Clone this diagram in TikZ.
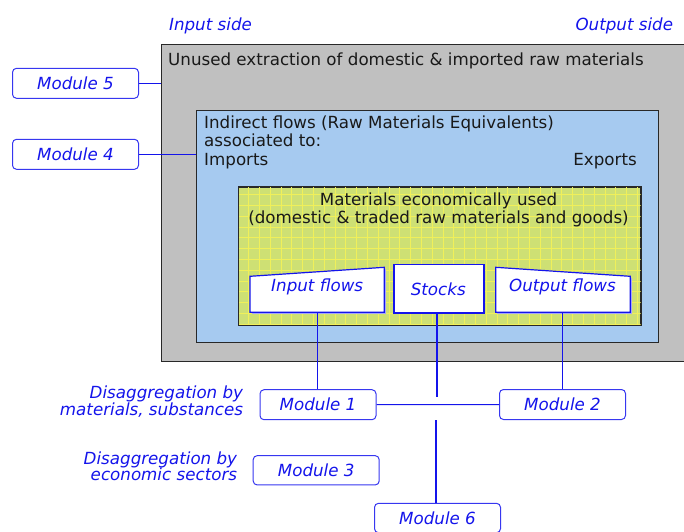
\documentclass[tikz,border=0pt]{standalone}
\usepackage{fontspec}
\setmainfont{DejaVu Sans}
\usetikzlibrary{calc}

\definecolor{panelgrey}{RGB}{192,192,192}
\definecolor{panelblue}{RGB}{166,202,240}
\definecolor{panelgreen}{RGB}{206,224,116}
\definecolor{gridyellow}{RGB}{240,240,90}
\definecolor{linkblue}{RGB}{20,20,235}
\definecolor{edgeblue}{RGB}{55,55,240}
\definecolor{frameink}{RGB}{40,40,40}
\definecolor{inkblack}{RGB}{25,25,25}

\newcommand\basefont{\fontsize{16.7}{18}\selectfont}

\begin{document}
\begin{tikzpicture}[x=1pt,y=-1pt,
  panel/.style={draw=frameink, line width=1.1pt, anchor=north west, inner sep=0pt},
  plain/.style={font=\basefont, text=inkblack, inner sep=0pt},
  bluetext/.style={font=\basefont\itshape, text=linkblue, inner sep=0pt},
  modbox/.style={draw=edgeblue, line width=1pt, rounded corners=4pt, fill=white,
    minimum width=126pt, minimum height=30pt, inner sep=0pt, font=\basefont\itshape, text=linkblue},
  flowbox/.style={draw=linkblue, line width=1.2pt, fill=white},
  flowshadow/.style={draw=edgeblue!45, line width=1.2pt},
  link/.style={draw=linkblue, line width=1pt},
  thicklink/.style={draw=linkblue, line width=2.2pt}]

\useasboundingbox (0,0) rectangle (684,531);

% side headings
\node[bluetext, anchor=base] (inputside) at (210.5,30) {Input side};
\node[bluetext, anchor=base] (outputside) at (624.3,30) {Output side};

% outer panel: unused extraction
\node[panel, fill=panelgrey, minimum width=535pt, minimum height=317.3pt] (unused) at (160.7,44) {};
\node[plain, anchor=base west] (unusedtxt) at (168,65) {Unused extraction of domestic \& imported raw materials};

% middle panel: indirect flows
\node[panel, fill=panelblue, minimum width=461.7pt, minimum height=232.3pt] (indirect) at (196,110) {};
\node[plain, anchor=base west] (indirect1) at (204,128.3) {Indirect flows (Raw Materials Equivalents)};
\node[plain, anchor=base west] (indirect2) at (204,146.7) {associated to:};
\node[plain, anchor=base west] (imports) at (204,165) {Imports};
\node[plain, anchor=base east] (exports) at (637,165) {Exports};

% inner panel: materials economically used, with its grid
\fill[black!55] (239.8,188.2) rectangle (641.5,325.8);
\node[panel, fill=panelgreen, minimum width=401.7pt, minimum height=137.6pt] (econ) at (238.3,186.7) {};
\begin{scope}
  \clip ($(econ.north west)+(0.6,0.6)$) rectangle ($(econ.south east)+(-0.6,-0.6)$);
  \draw[gridyellow, line width=0.5pt, step=10.8pt] (230,180) grid (650,330);
\end{scope}
\draw[frameink, line width=1.1pt] (econ.north west) rectangle (econ.south east);
\node[plain, anchor=base] (econ1) at (438.5,205) {Materials economically used};
\node[plain, anchor=base] (econ2) at (438.5,223.5) {(domestic \& traded raw materials and goods)};

% flow boxes
\draw[flowshadow] (251.5,313.8) -- (385.8,313.8) -- (385.8,268.8);
\draw[flowbox] (250,312.3) -- (250,276.3) -- (384.3,267.3) -- (384.3,312.3) -- cycle;
\node[bluetext, anchor=base] (inflow) at (317.2,291) {Input flows};
\coordinate (inflowbase) at (317.5,312.3);

\draw[flowshadow] (394.8,313.8) -- (484.8,313.8) -- (484.8,265.5);
\node[flowbox, anchor=north west, minimum width=90pt, minimum height=48.3pt, inner sep=0pt] (stocksbox) at (393.3,264) {};
\node[bluetext, anchor=base] (stocks) at (438.3,295) {Stocks};

\draw[flowshadow] (497.2,313.8) -- (631.8,313.8) -- (631.8,277.8);
\draw[flowbox] (495.7,312.3) -- (495.7,267.3) -- (630.3,276.3) -- (630.3,312.3) -- cycle;
\node[bluetext, anchor=base] (outflow) at (562.5,291) {Output flows};
\coordinate (outflowbase) at (562.5,312.3);

% modules
\node[modbox] (m5) at (75.5,83.3) {Module 5};
\node[modbox] (m4) at (75.5,154.3) {Module 4};
\node[modbox, minimum width=116pt] (m1) at (318,404.7) {Module 1};
\node[modbox] (m2) at (562.5,404.5) {Module 2};
\node[modbox, minimum height=29.3pt] (m3) at (316.2,470.3) {Module 3};
\node[modbox, minimum height=29.4pt] (m6) at (437.5,518) {Module 6};

% descriptions of the disaggregation modules
\node[bluetext, anchor=base east] (dis1a) at (243.3,398.3) {Disaggregation by};
\node[bluetext, anchor=base east] (dis1b) at (243.3,415) {materials, substances};
\node[bluetext, anchor=base east] (dis3a) at (237.3,464) {Disaggregation by};
\node[bluetext, anchor=base east] (dis3b) at (237.3,480.7) {economic sectors};

% connectors
\draw[link] (m5.east) -- (m5.east -| unused.west);
\draw[link] (m4.east) -- (m4.east -| indirect.west);
\draw[link] (inflowbase) -- (inflowbase |- m1.north);
\draw[link] (outflowbase) -- (outflowbase |- m2.north);
\draw[link] (m1.east) -- (m2.west);
\coordinate (stocksgap) at ($(stocksbox.south)+(-2,83.4)$);
\draw[thicklink] ($(stocksbox.south)+(-2,0)$) -- (stocksgap);
\coordinate (m6top) at ($(m6.north)+(-1.5,0)$);
\draw[thicklink] (m6top) -- ++(0,-83.3);
\end{tikzpicture}
\end{document}
